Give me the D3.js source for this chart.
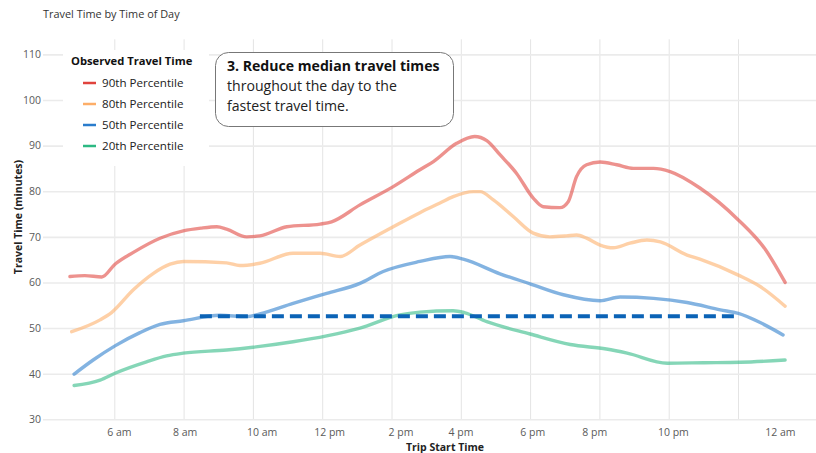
<!DOCTYPE html>
<html>
<head>
<meta charset="utf-8">
<script src="https://cdn.jsdelivr.net/npm/d3@7"></script>
<style>
  html, body { margin: 0; padding: 0; background: #fff; }
  svg { display: block; font-family: "Open Sans", Lato, sans-serif; }
</style>
</head>
<body>
<svg id="chart" width="816" height="453"></svg>
<script>
// ---------- data ----------
const chartTitle = "Travel Time by Time of Day";
const yAxisTitle = "Travel Time (minutes)";
const xAxisTitle = "Trip Start Time";
const legendTitle = "Observed Travel Time";
const seriesNames = ["90th Percentile", "80th Percentile", "50th Percentile", "20th Percentile"];
const seriesColors = ["#e0433d", "#fdae68", "#2a7ccc", "#2cb983"];

const yTicks = [30, 40, 50, 60, 70, 80, 90, 100, 110];
const xGridHours = [6, 8, 10, 12, 14, 16, 18, 20, 22, 24];
const xTickLabels = ["6 am", "8 am", "10 am", "12 pm", "2 pm", "4 pm", "6 pm", "8 pm", "10 pm", "12 am"];
const xTickHours = [6.13, 8.03, 10.25, 12.2, 14.26, 15.99, 18.06, 19.85, 22.12, 25.21];

// [hour of day, minutes]
const p90 = [
  [4.72, 61.3], [5.15, 61.5], [5.64, 61.2], [6.02, 64.0], [6.55, 66.6], [7.32, 69.7],
  [7.99, 71.3], [8.5, 71.9], [8.96, 72.2], [9.24, 71.7], [9.82, 70.0], [10.2, 70.2],
  [10.98, 72.2], [11.94, 72.8], [12.27, 73.3], [13.09, 77.0], [14.05, 81.0], [14.82, 84.7],
  [15.21, 86.5], [15.88, 90.5], [16.4, 92.0], [16.75, 91.1], [17.13, 88.0], [17.61, 83.9],
  [18.09, 78.5], [18.38, 76.6], [18.86, 76.4], [19.1, 77.7], [19.34, 83.2], [19.63, 85.8],
  [20.02, 86.4], [20.5, 85.8], [20.98, 85.0], [21.56, 85.0], [22.04, 84.3], [22.9, 80.7],
  [24.01, 73.7], [24.8, 67.1], [25.36, 60.0]
];
const p80 = [
  [4.77, 49.2], [5.59, 51.8], [5.92, 53.4], [6.55, 58.4], [7.13, 62.0], [7.61, 64.0],
  [8.0, 64.6], [9.24, 64.3], [9.62, 63.7], [10.2, 64.2], [11.16, 66.4], [11.94, 66.4],
  [12.52, 65.7], [13.09, 68.2], [14.05, 72.2], [14.82, 75.3], [15.4, 77.4], [15.78, 78.8],
  [16.36, 79.9], [16.56, 79.9], [16.94, 78.1], [17.52, 74.4], [18.09, 70.8], [18.57, 70.0],
  [19.05, 70.2], [19.34, 70.4], [19.63, 69.7], [20.02, 68.2], [20.4, 67.6], [20.88, 68.6],
  [21.37, 69.3], [21.76, 68.9], [22.53, 66.0], [22.9, 65.1], [24.01, 61.6], [24.64, 59.1],
  [25.36, 54.8]
];
const p50 = [
  [4.84, 39.9], [5.39, 43.0], [6.02, 46.1], [6.74, 49.0], [7.32, 50.8], [7.99, 51.6],
  [9.05, 52.8], [9.82, 52.5], [10.2, 53.1], [11.16, 55.4], [12.13, 57.6], [13.09, 59.8],
  [13.76, 62.4], [14.82, 64.6], [15.69, 65.7], [16.07, 65.1], [17.13, 61.9], [18.0, 59.7],
  [18.96, 57.3], [20.02, 56.0], [20.6, 56.8], [21.56, 56.5], [22.53, 55.6], [23.49, 54.0],
  [24.01, 53.2], [24.64, 51.2], [25.3, 48.5]
];
const p20 = [
  [4.84, 37.4], [5.59, 38.6], [6.02, 40.1], [6.93, 42.6], [7.51, 43.9], [7.99, 44.5],
  [9.24, 45.2], [10.0, 45.8], [11.16, 47.0], [12.13, 48.3], [13.09, 50.0], [14.24, 52.9],
  [14.82, 53.5], [15.78, 53.8], [16.1, 53.4], [16.75, 51.4], [18.0, 48.7], [19.16, 46.4],
  [20.2, 45.4], [20.8, 44.5], [21.96, 42.3], [23.02, 42.4], [24.07, 42.5], [25.36, 43.0]
];
const series = [p90, p80, p50, p20];

const targetValue = 52.6;
const targetHours = [8.47, 23.91];

const noteBold = "3. Reduce median travel times";
const noteLines = ["throughout the day to the", "fastest travel time."];

// ---------- layout ----------
const gridLeft = 43, gridRight = 816;
const svg = d3.select("#chart");

const x = d3.scaleLinear().domain([4, 26]).range([45, 807.3]);
const y = d3.scaleLinear().domain([30, 113.3]).range([419.3, 39.3]);

// title
svg.append("text").attr("x", 43).attr("y", 18)
  .attr("font-size", 10.9).attr("fill", "#333").text(chartTitle);

// vertical gridlines
const vg = svg.append("g").attr("transform", `translate(0,${y.range()[0]})`)
  .call(d3.axisBottom(x).tickValues(xGridHours).tickSize(-(y.range()[0] - y.range()[1])).tickFormat(""));
vg.select(".domain").remove();
vg.selectAll(".tick line").attr("stroke", "#e4e4e4").attr("stroke-width", 1);

// horizontal gridlines
const hg = svg.append("g").attr("transform", `translate(${gridLeft},0)`)
  .call(d3.axisLeft(y).tickValues(yTicks).tickSize(-(gridRight - gridLeft)).tickFormat(d => d).tickPadding(2));
hg.select(".domain").remove();
hg.selectAll(".tick line").attr("stroke", "#ebebeb").attr("stroke-width", 1.6);
hg.selectAll(".tick text").attr("fill", "#5a5a5a").attr("font-size", 10.5).attr("font-family", "'Open Sans', sans-serif");

// x tick labels
const xa = svg.append("g").attr("transform", `translate(0,${y.range()[0]})`)
  .call(d3.axisBottom(x).tickValues(xTickHours).tickSize(0).tickPadding(9).tickFormat((d, i) => xTickLabels[i]));
xa.select(".domain").remove();
xa.selectAll(".tick text").attr("fill", "#5a5a5a").attr("font-size", 10.5).attr("font-family", "'Open Sans', sans-serif");

// axis titles
svg.append("text").attr("x", 445).attr("y", 451).attr("text-anchor", "middle")
  .attr("font-size", 10.5).attr("font-weight", "bold").attr("fill", "#222").text(xAxisTitle);
svg.append("text").attr("transform", "translate(22,217) rotate(-90)").attr("text-anchor", "middle")
  .attr("font-size", 10.5).attr("font-weight", "bold").attr("fill", "#222").text(yAxisTitle);

// lines
const line = d3.line().x(d => x(d[0])).y(d => y(d[1])).curve(d3.curveMonotoneX);
svg.append("g").selectAll("path").data(series).join("path")
  .attr("d", line)
  .attr("fill", "none")
  .attr("stroke", (d, i) => seriesColors[i])
  .attr("stroke-opacity", 0.58)
  .attr("stroke-width", 3.4)
  .attr("stroke-linecap", "round")
  .attr("stroke-linejoin", "round");

// target dashed line
svg.append("line")
  .attr("x1", x(targetHours[0])).attr("x2", x(targetHours[1]))
  .attr("y1", y(targetValue)).attr("y2", y(targetValue))
  .attr("stroke", "#0b63b6").attr("stroke-width", 4).attr("stroke-dasharray", "12,6");

// legend
const lg = svg.append("g");
lg.append("rect").attr("x", 63).attr("y", 50).attr("width", 146).attr("height", 116).attr("fill", "#fff");
lg.append("text").attr("x", 71).attr("y", 65).attr("font-size", 11.2).attr("font-weight", "bold")
  .attr("fill", "#111").text(legendTitle);
const items = lg.selectAll("g.item").data(seriesNames).join("g").attr("class", "item")
  .attr("transform", (d, i) => `translate(0,${83 + i * 21})`);
items.append("line").attr("x1", 83).attr("x2", 96).attr("stroke", (d, i) => seriesColors[i]).attr("stroke-width", 2.5);
items.append("text").attr("x", 102).attr("y", 4.2).attr("font-size", 11.6).attr("fill", "#222").text(d => d);

// annotation
const an = svg.append("g");
an.append("rect").attr("x", 215.5).attr("y", 52.5).attr("width", 238).attr("height", 74).attr("rx", 13)
  .attr("fill", "#fff").attr("stroke", "#777").attr("stroke-width", 1);
an.append("text").attr("x", 227).attr("y", 70.5).attr("font-size", 14.1).attr("font-weight", "bold")
  .attr("fill", "#111").text(noteBold);
an.selectAll("text.nl").data(noteLines).join("text").attr("class", "nl")
  .attr("x", 227).attr("y", (d, i) => 91 + i * 20).attr("font-size", 14.1).attr("fill", "#222").text(d => d);
</script>
</body>
</html>
